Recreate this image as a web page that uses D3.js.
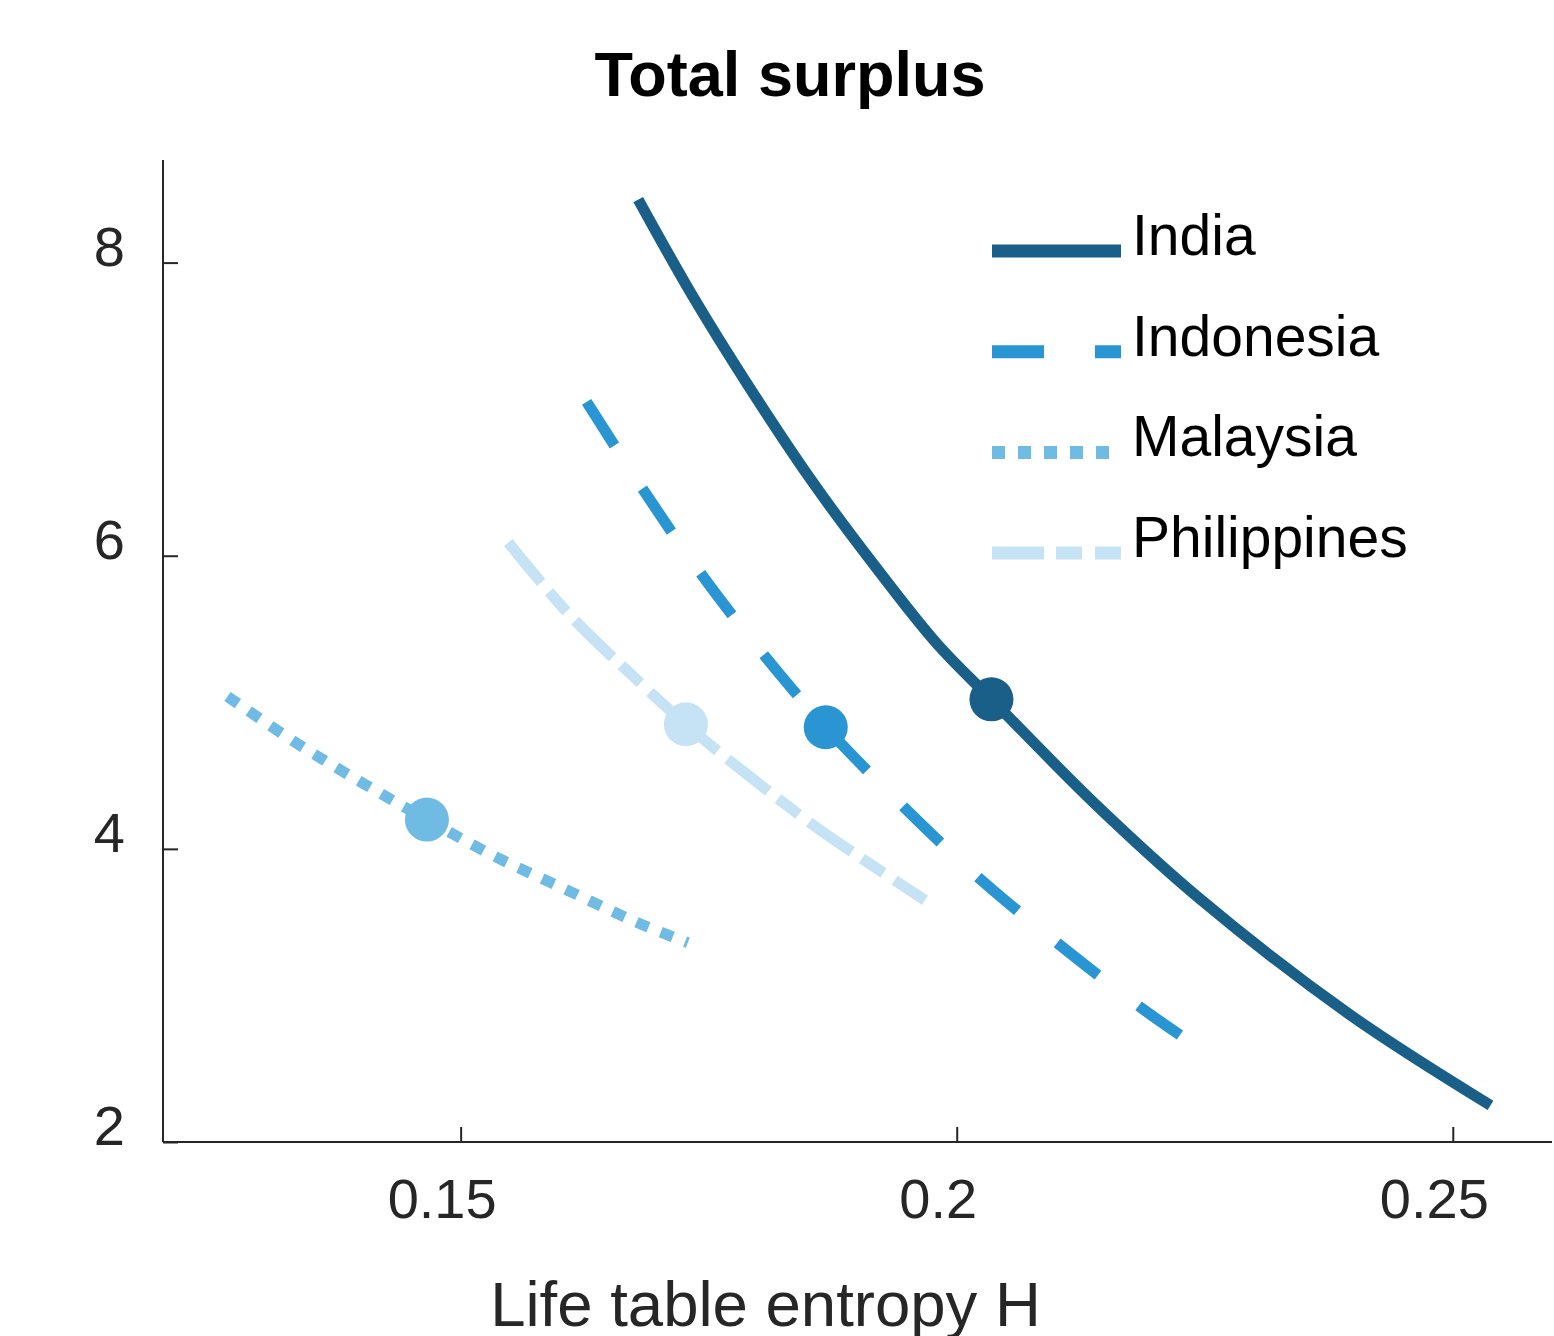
<!DOCTYPE html>
<html>
<head>
<meta charset="utf-8">
<script src="https://cdn.jsdelivr.net/npm/d3@7"></script>
<style>
  html, body { margin: 0; padding: 0; background: #fff; }
  svg { display: block; font-family: "Liberation Sans", Arial, sans-serif; }
</style>
</head>
<body>
<div id="chart"></div>
<script>
// life table entropy H (x) vs total surplus (y)
var countries = ["India", "Indonesia", "Malaysia", "Philippines"];

var indiaH = [0.1679, 0.1734, 0.1789, 0.1855, 0.1913, 0.1980, 0.2035, 0.2139, 0.2245, 0.2396, 0.2538];
var indiaS = [8.43, 7.77, 7.17, 6.50, 5.97, 5.40, 5.02, 4.31, 3.66, 2.87, 2.25];

var indonesiaH = [0.1627, 0.1684, 0.1743, 0.1806, 0.1868, 0.1946, 0.2021, 0.2101, 0.2183, 0.2225];
var indonesiaS = [7.05, 6.45, 5.87, 5.32, 4.83, 4.29, 3.81, 3.36, 2.93, 2.73];

var malaysiaH = [0.1265, 0.1335, 0.1401, 0.1466, 0.1537, 0.1607, 0.1677, 0.1729];
var malaysiaS = [5.04, 4.72, 4.45, 4.20, 3.94, 3.72, 3.50, 3.36];

var philippinesH = [0.1548, 0.1608, 0.1683, 0.1727, 0.1777, 0.1860, 0.1968];
var philippinesS = [6.09, 5.61, 5.12, 4.85, 4.57, 4.14, 3.65];

// current values (the dots)
var markerH = [0.2035, 0.1868, 0.1466, 0.1727];
var markerS = [5.02, 4.83, 4.20, 4.85];

var xTicks = [0.15, 0.2, 0.25];
var yTicks = [2, 4, 6, 8];

var colors = ["#1a5f87", "#2996d3", "#6fbbe4", "#c5e3f4"];
var dashes = [null, "52,51", "13,13", "52,12,26,13"];

var W = 1554, H = 1336;
var plotLeft = 163, plotRight = 1552, plotTop = 160, plotBottom = 1142;

var x = d3.scaleLinear().domain([0.12, 0.26]).range([plotLeft, plotRight]);
var y = d3.scaleLinear().domain([2, 8.7]).range([plotBottom, plotTop]);

var svg = d3.select("#chart").append("svg")
  .attr("width", W).attr("height", H);

function zip(hs, ss) { return hs.map(function(h, i) { return {h: h, s: ss[i]}; }); }
var series = [zip(indiaH, indiaS), zip(indonesiaH, indonesiaS), zip(malaysiaH, malaysiaS), zip(philippinesH, philippinesS)];

// axes
var xAxis = svg.append("g")
  .attr("transform", "translate(0," + plotBottom + ")")
  .call(d3.axisBottom(x).tickValues(xTicks).tickSizeInner(-15).tickSizeOuter(0)
        .tickFormat(function(d) { return d3.format("")(d); }));
var yAxis = svg.append("g")
  .attr("transform", "translate(" + plotLeft + ",0)")
  .call(d3.axisLeft(y).tickValues(yTicks).tickSizeInner(-15).tickSizeOuter(0)
        .tickFormat(d3.format("d")));

[xAxis, yAxis].forEach(function(a) {
  a.select(".domain").attr("stroke", "#262626").attr("stroke-width", 2);
  a.selectAll(".tick line").attr("stroke", "#262626").attr("stroke-width", 2);
  a.selectAll(".tick text").attr("fill", "#262626").attr("font-size", 56)
    .attr("font-family", "Liberation Sans, Arial, sans-serif");
});
// y axis line runs to the top of the plot box
yAxis.select(".domain").attr("d", "M0," + plotBottom + "V" + plotTop);
xAxis.select(".domain").attr("d", "M" + plotLeft + ",0H" + plotRight);
yAxis.selectAll(".tick text").attr("x", -38).attr("dy", "0.35em").attr("transform", "translate(0,-17)");
xAxis.selectAll(".tick text").attr("y", 36).attr("dy", "0.71em").attr("transform", "translate(-19,0)");

// lines
var line = d3.line()
  .x(function(d) { return x(d.h); })
  .y(function(d) { return y(d.s); })
  .curve(d3.curveCatmullRom.alpha(0.5));

series.forEach(function(s, i) {
  svg.append("path")
    .datum(s)
    .attr("d", line)
    .attr("fill", "none")
    .attr("stroke", colors[i])
    .attr("stroke-width", 11)
    .attr("stroke-linecap", "butt")
    .attr("stroke-dasharray", dashes[i]);
});

svg.selectAll(".dot")
  .data(markerH)
  .enter().append("circle")
  .attr("class", "dot")
  .attr("cx", function(d) { return x(d); })
  .attr("cy", function(d, i) { return y(markerS[i]); })
  .attr("r", 22)
  .attr("fill", function(d, i) { return colors[i]; });

// legend
var legend = svg.append("g").attr("transform", "translate(992,251)");
countries.forEach(function(c, i) {
  var g = legend.append("g").attr("transform", "translate(0," + (i * 100.7) + ")");
  g.append("line")
    .attr("x1", 0).attr("x2", 129).attr("y1", 0).attr("y2", 0)
    .attr("stroke", colors[i])
    .attr("stroke-width", 13)
    .attr("stroke-dasharray", dashes[i]);
  g.append("text")
    .attr("x", 140).attr("y", 4)
    .attr("font-size", 57)
    .attr("fill", "#000")
    .text(c);
});

// title and axis label
svg.append("text")
  .attr("x", 790).attr("y", 96)
  .attr("text-anchor", "middle")
  .attr("font-size", 63).attr("font-weight", "bold")
  .attr("fill", "#000")
  .text("Total surplus");

svg.append("text")
  .attr("x", 765.5).attr("y", 1326)
  .attr("text-anchor", "middle")
  .attr("font-size", 63.5)
  .attr("fill", "#262626")
  .text("Life table entropy H");
</script>
</body>
</html>
